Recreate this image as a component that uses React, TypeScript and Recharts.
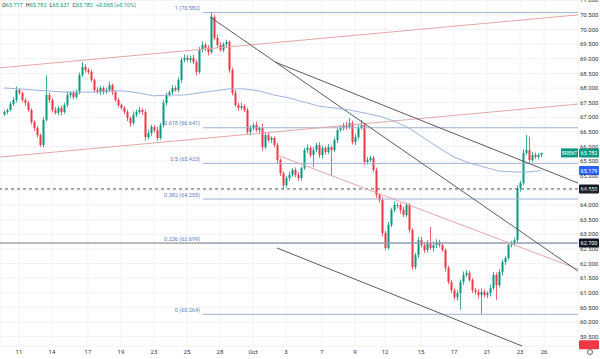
import React from 'react';
import { ComposedChart, Bar, Scatter, XAxis, YAxis, CartesianGrid, ReferenceLine } from 'recharts';

// ---- data (4H Brent candles) ----
const firstOpen = 67.1;
const closes = [
  67.18, 67.25, 67.45, 67.59, 67.93, 67.83, 67.59, 67.49, 67.25, 66.84,
  66.63, 66.39, 66.05, 66.91, 67.76, 67.59, 67.25, 67.15, 67.32, 67.18,
  67.42, 67.76, 67.83, 67.69, 67.86, 68.44, 68.72, 68.62, 68.55, 68.27,
  67.93, 67.86, 68.0, 67.86, 67.93, 68.1, 67.86, 67.59, 67.42, 67.32,
  67.18, 66.97, 66.8, 67.08, 67.18, 67.25, 67.18, 66.32, 66.46, 66.67,
  66.56, 66.29, 66.73, 67.49, 67.76, 67.86, 68.0, 67.93, 68.27, 68.96,
  69.03, 68.96, 69.03, 68.89, 68.55, 69.3, 69.47, 69.37, 69.23, 70.43,
  69.71, 69.47, 69.3, 69.5, 69.57, 68.62, 67.83, 67.42, 67.32, 67.38,
  67.25, 66.5, 66.63, 66.73, 66.56, 66.63, 65.98, 66.39, 66.22, 66.29,
  66.05, 65.54, 65.09, 64.68, 64.92, 65.03, 65.2, 65.03, 64.92, 65.26,
  65.88, 65.95, 65.71, 65.88, 66.05, 65.71, 65.95, 65.81, 65.98, 65.88,
  66.22, 66.56, 66.63, 66.73, 66.67, 66.8, 66.15, 66.32, 66.63, 66.73,
  65.47, 65.54, 65.61, 65.2, 64.34, 64.17, 63.04, 62.53, 63.32, 63.83,
  64.0, 64.0, 63.83, 63.66, 64.0, 63.15, 61.88, 62.29, 62.8, 62.63,
  62.46, 62.7, 62.53, 62.63, 62.73, 62.63, 62.46, 61.85, 61.37, 61.09,
  60.85, 60.99, 61.37, 61.61, 61.68, 61.44, 61.09, 61.03, 60.92, 61.03,
  60.92, 60.99, 61.16, 61.61, 61.26, 61.71, 62.05, 62.19, 62.63, 62.7,
  62.8, 64.58, 64.75, 65.78, 65.88, 65.54, 65.71, 65.64, 65.717, 65.782,
];
// upper / lower wick lengths in cents
const upWicks = [
  6, 5, 8, 10, 12, 5, 4, 6, 8, 5,
  6, 8, 5, 10, 68, 8, 6, 10, 6, 8,
  8, 12, 6, 8, 10, 9, 17, 10, 6, 8,
  6, 10, 8, 6, 8, 12, 5, 6, 8, 5,
  6, 8, 5, 12, 8, 10, 6, 8, 12, 8,
  6, 12, 8, 10, 8, 6, 10, 8, 10, 8,
  12, 10, 8, 10, 6, 10, 12, 8, 10, 15,
  8, 12, 10, 6, 8, 6, 8, 10, 8, 12,
  6, 8, 10, 8, 12, 6, 15, 8, 10, 6,
  6, 8, 6, 5, 8, 10, 6, 8, 10, 6,
  8, 12, 6, 10, 8, 10, 8, 6, 10, 5,
  8, 6, 10, 8, 12, 17, 8, 10, 12, 18,
  6, 10, 8, 6, 8, 6, 10, 8, 10, 8,
  12, 8, 6, 10, 8, 6, 5, 8, 10, 12,
  8, 10, 55, 12, 10, 8, 6, 5, 8, 6,
  6, 10, 8, 12, 10, 8, 6, 8, 10, 12,
  8, 6, 12, 10, 8, 10, 8, 6, 10, 8,
  8, 10, 8, 12, 52, 44, 10, 8, 6, 0,
];
const downWicks = [
  6, 8, 5, 6, 8, 6, 8, 10, 6, 8,
  10, 8, 6, 8, 6, 10, 8, 6, 8, 12,
  6, 8, 10, 8, 6, 8, 6, 10, 8, 6,
  8, 6, 10, 8, 6, 8, 10, 6, 8, 6,
  8, 10, 12, 6, 8, 6, 10, 12, 8, 10,
  8, 8, 6, 8, 10, 6, 8, 6, 8, 10,
  8, 6, 10, 8, 12, 6, 8, 10, 12, 6,
  8, 10, 6, 8, 12, 10, 8, 6, 10, 8,
  8, 10, 12, 8, 6, 10, 12, 8, 6, 10,
  8, 12, 10, 13, 8, 10, 6, 8, 10, 8,
  6, 10, 8, 41, 8, 10, 12, 8, 6, 88,
  8, 10, 6, 8, 10, 6, 8, 10, 8, 6,
  10, 8, 6, 8, 10, 8, 12, 8, 6, 8,
  8, 10, 12, 8, 6, 10, 9, 8, 10, 8,
  10, 8, 6, 12, 10, 8, 6, 12, 8, 10,
  8, 12, 58, 10, 8, 6, 10, 8, 12, 66,
  8, 10, 12, 6, 50, 8, 12, 10, 6, 8,
  10, 8, 12, 8, 6, 10, 8, 6, 8, 8,
];
// moving average, read every 5 candles
const maIndex = [
  0, 5, 10, 15, 20, 25, 30, 35, 40, 45, 50, 55, 60, 65, 70, 75, 80, 85, 90,
  95, 100, 105, 110, 115, 120, 125, 130, 135, 140, 145, 150, 155, 160, 165, 170, 175, 179,
];
const maValues = [
  68.0, 67.97, 67.93, 67.9, 67.86, 67.86, 67.86, 67.9, 67.9, 67.83, 67.73, 67.76, 67.76, 67.83, 67.9, 67.97, 67.97, 67.9, 67.76,
  67.66, 67.52, 67.38, 67.32, 67.25, 67.15, 67.04, 66.87, 66.63, 66.29, 65.95, 65.64, 65.44, 65.3, 65.16, 65.13, 65.13, 65.18,
];

const dayTicks = [5, 16, 28, 39, 50, 61, 72, 83, 94, 106, 117, 127, 139, 150, 161, 172, 180];
const dayLabels = ['11', '14', '17', '19', '23', '25', '28', 'Oct', '3', '7', '9', '12', '15', '17', '21', '23', '26'];
const priceTicks = [59.5, 60, 60.5, 61, 61.5, 62, 62.5, 63, 63.5, 64, 64.5, 65, 65.5, 66, 66.5, 67, 67.5, 68, 68.5, 69, 69.5, 70, 70.5, 71];

const fibRatios = ['1', '0.618', '0.5', '0.382', '0.236', '0'];
const fibValues = [70.582, 66.641, 65.423, 64.205, 62.699, 60.264];
const fibStart = 66.33;

const X_MIN = -1.333;
const X_MAX = 191.333;
const Y_MIN = 59.18;
const Y_MAX = 71.0085;

// trend lines: [x1, y1, x2, y2] in (candle index, price)
const redChannel = [
  [X_MIN, 68.69, X_MAX, 70.5],
  [X_MIN, 65.64, X_MAX, 67.45],
  [91, 65.71, X_MAX, 61.81],
];
const blackLines = [
  [68.67, 70.43, X_MAX, 61.74],
  [90.3, 68.89, X_MAX, 64.75],
  [91, 62.53, 172.67, Y_MIN],
];

const lastPrice = 65.782;
const maLast = 65.179;
const dashedLevel = 64.55;
const hLevel = 62.7;

const GREEN = '#089981';
const RED = '#f23645';
const FONT = 'Roboto, "Noto Sans", sans-serif';

const data: any[] = closes.map((c, i) => {
  const o = i === 0 ? firstOpen : closes[i - 1];
  const h = Math.max(o, c) + upWicks[i] / 100;
  const l = Math.min(o, c) - downWicks[i] / 100;
  return { i, open: o, close: c, high: h, low: l, range: [l, h] };
});
const maData = maIndex.map((k, j) => ({ i: k, ma: maValues[j] }));

const Candle = (props: any) => {
  const { x, y, width, height, payload } = props;
  if (!payload || height == null || isNaN(y)) return <g />;
  const { open, close, high, low } = payload;
  const top = Math.min(y, y + height);
  const h = Math.abs(height);
  const ppu = h / (high - low);
  const yo = top + (high - open) * ppu;
  const yc = top + (high - close) * ppu;
  const color = close >= open ? GREEN : RED;
  const cx = x + width / 2;
  const bTop = Math.min(yo, yc);
  const bh = Math.max(Math.abs(yo - yc), 1);
  return (
    <g>
      <line x1={cx} x2={cx} y1={top} y2={top + h} stroke={color} strokeWidth={0.8} />
      <rect x={x} y={bTop} width={width} height={bh} fill={color} />
    </g>
  );
};

const NoDot = () => <g />;

const fibLabel = (text: string) => (props: any) => {
  const vb = props.viewBox || {};
  return (
    <text x={vb.x - 3} y={vb.y - 2.5} textAnchor="end" fontSize={5.5} fontFamily={FONT} fill="#5a7cc2">
      {text}
    </text>
  );
};

const axisTag = (text: string, bg: string, extra?: string) => (props: any) => {
  const vb = props.viewBox || {};
  const right = vb.x + vb.width;
  return (
    <g>
      {extra ? (
        <g>
          <rect x={right - 17} y={vb.y - 4.5} width={17} height={9} fill={bg} />
          <text x={right - 8.5} y={vb.y + 2} textAnchor="middle" fontSize={5} fontFamily={FONT} fill="#fff">
            {extra}
          </text>
        </g>
      ) : null}
      <rect x={right + 1} y={vb.y - 4.5} width={20} height={9} fill={bg} rx={1} />
      {text ? (
        <text x={right + 11} y={vb.y + 2} textAnchor="middle" fontSize={5.5} fontFamily={FONT} fill="#fff">
          {text}
        </text>
      ) : null}
    </g>
  );
};

const Header = () => {
  const parts: [string, string][] = [
    ['O', '65.717'],
    ['H', '65.782'],
    ['L', '65.637'],
    ['C', '65.782'],
  ];
  return (
    <div
      style={{
        position: 'absolute',
        left: 2,
        top: 2,
        fontSize: 5.5,
        fontFamily: FONT,
        whiteSpace: 'nowrap',
        lineHeight: '7px',
      }}
    >
      {parts.map(([k, v]) => (
        <span key={k} style={{ marginRight: 3 }}>
          <span style={{ color: '#131722' }}>{k}</span>
          <span style={{ color: GREEN }}>{v}</span>
        </span>
      ))}
      <span style={{ color: GREEN }}>+0.065 (+0.10%)</span>
    </div>
  );
};

export default function App() {
  return (
    <div
      style={{
        position: 'absolute',
        left: 0,
        top: 0,
        width: 600,
        height: 359,
        background: '#fff',
        overflow: 'hidden',
        pointerEvents: 'none',
      }}
    >
      <ComposedChart width={600} height={359} data={data} margin={{ top: 0, right: 0, bottom: 0, left: 0 }}>
        <CartesianGrid stroke="#f0f2f7" strokeWidth={1} />
        <XAxis
          dataKey="i"
          type="number"
          domain={[X_MIN, X_MAX]}
          allowDataOverflow
          ticks={dayTicks}
          interval={0}
          tickFormatter={(v: number) => dayLabels[dayTicks.indexOf(v)] ?? ''}
          height={13}
          tickLine={false}
          axisLine={false}
          tickSize={1}
          tickMargin={3}
          tick={{ fontSize: 6, fill: '#333', fontFamily: FONT }}
        />
        <YAxis
          orientation="right"
          type="number"
          domain={[Y_MIN, Y_MAX]}
          allowDataOverflow
          ticks={priceTicks}
          interval={0}
          width={22}
          tickLine={false}
          axisLine={false}
          tickSize={1}
          tickMargin={1}
          tickFormatter={(v: number) => v.toFixed(3)}
          tick={{ fontSize: 6, fill: '#333', fontFamily: FONT }}
        />
        {/* horizontal levels */}
        <ReferenceLine y={hLevel} stroke="#777" strokeWidth={1} ifOverflow="visible" />
        <ReferenceLine y={dashedLevel} stroke="#555" strokeWidth={1} strokeDasharray="3 3" ifOverflow="visible" />
        {fibValues.map((v, k) => (
          <ReferenceLine
            key={'fib' + k}
            segment={[
              { x: fibStart, y: v },
              { x: X_MAX, y: v },
            ]}
            stroke="#9fb1d6"
            strokeWidth={1}
            ifOverflow="visible"
            label={fibLabel(`${fibRatios[k]} (${v.toFixed(3)})`)}
          />
        ))}
        {redChannel.map((s, k) => (
          <ReferenceLine
            key={'rc' + k}
            segment={[
              { x: s[0], y: s[1] },
              { x: s[2], y: s[3] },
            ]}
            stroke="#e7a6a6"
            strokeWidth={1}
            ifOverflow="visible"
          />
        ))}
        {blackLines.map((s, k) => (
          <ReferenceLine
            key={'bl' + k}
            segment={[
              { x: s[0], y: s[1] },
              { x: s[2], y: s[3] },
            ]}
            stroke="#5c5c5c"
            strokeWidth={1}
            ifOverflow="visible"
          />
        ))}
        <Scatter
          data={maData}
          dataKey="ma"
          line={{ stroke: '#9db3e0', strokeWidth: 1 }}
          lineType="joint"
          shape={NoDot}
          activeShape={NoDot}
          legendType="none"
          isAnimationActive={false}
        />
        <Bar dataKey="range" barSize={2} shape={Candle} activeBar={false} isAnimationActive={false} />
        {/* price tags on the axis */}
        <ReferenceLine y={hLevel} stroke="none" ifOverflow="visible" label={axisTag(hLevel.toFixed(3), '#131722')} />
        <ReferenceLine y={dashedLevel} stroke="none" ifOverflow="visible" label={axisTag(dashedLevel.toFixed(3), '#131722')} />
        <ReferenceLine y={maLast} stroke="none" ifOverflow="visible" label={axisTag(maLast.toFixed(3), '#2962ff')} />
        <ReferenceLine y={lastPrice} stroke="none" ifOverflow="visible" label={axisTag(lastPrice.toFixed(3), GREEN, 'BRENT')} />
        <ReferenceLine y={59.22} stroke="none" ifOverflow="visible" label={axisTag('', RED)} />
      </ComposedChart>
      <Header />
      <div
        style={{
          position: 'absolute',
          left: 587,
          top: 349,
          width: 6,
          height: 6,
          borderRadius: 4,
          border: '1px solid #666',
          boxSizing: 'border-box',
        }}
      />
    </div>
  );
}
